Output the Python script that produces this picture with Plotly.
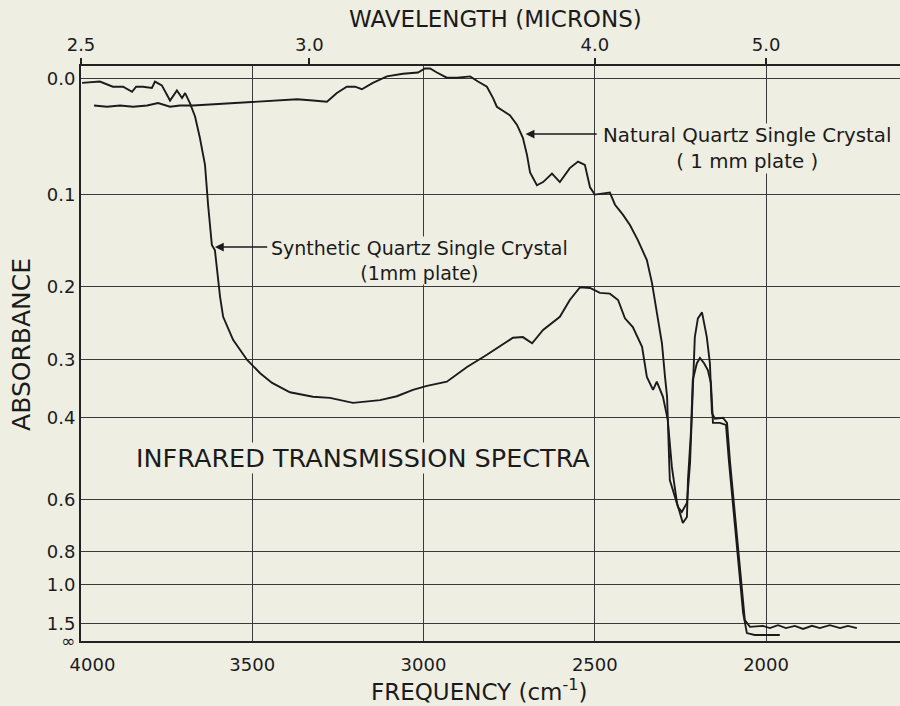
import plotly.graph_objects as go

# ---------------- data ----------------
# Synthetic quartz single crystal (1 mm plate): frequency (cm^-1) and absorbance
freq_syn = [3997, 3945, 3907, 3877, 3851, 3839, 3819, 3793, 3784, 3764,
            3740, 3720, 3705, 3696, 3682, 3667, 3653, 3638, 3629, 3618,
            3609, 3594, 3585, 3556, 3515, 3477, 3442, 3390, 3323, 3273,
            3206, 3127, 3078, 3031, 2990, 2932, 2873, 2815, 2739, 2710,
            2683, 2651, 2602, 2573, 2543, 2514, 2485, 2456, 2432, 2412,
            2389, 2362, 2348, 2330, 2319, 2301, 2287, 2275, 2260, 2243,
            2231, 2228, 2219, 2214, 2202, 2193, 2181, 2170, 2161, 2155,
            2135, 2117, 2108, 2094, 2085, 2076, 2067, 2056, 2033, 2009,
            1960]
abs_syn = [0.003, 0.002, 0.006, 0.006, 0.010, 0.006, 0.006, 0.007, 0.002, 0.005,
           0.017, 0.009, 0.015, 0.011, 0.019, 0.030, 0.048, 0.072, 0.110, 0.152,
           0.158, 0.213, 0.239, 0.271, 0.301, 0.322, 0.338, 0.354, 0.362, 0.364,
           0.373, 0.368, 0.361, 0.350, 0.343, 0.336, 0.312, 0.293, 0.268, 0.267,
           0.276, 0.257, 0.239, 0.217, 0.201, 0.202, 0.208, 0.209, 0.217, 0.241,
           0.253, 0.281, 0.328, 0.350, 0.336, 0.362, 0.405, 0.509, 0.610, 0.678,
           0.656, 0.543, 0.426, 0.333, 0.306, 0.298, 0.306, 0.317, 0.338, 0.411,
           0.411, 0.415, 0.499, 0.643, 0.777, 0.917, 1.30, 1.85, 1.97, 1.97,
           1.97]

# Natural quartz single crystal (1 mm plate)
freq_nat = [3962, 3924, 3886, 3848, 3807, 3775, 3740, 3711, 3673, 3615,
            3565, 3501, 3440, 3369, 3323, 3282, 3253, 3224, 3200, 3180,
            3148, 3107, 3060, 3016, 2996, 2981, 2961, 2932, 2902, 2864,
            2841, 2815, 2797, 2786, 2748, 2727, 2710, 2698, 2689, 2669,
            2651, 2625, 2602, 2593, 2573, 2549, 2529, 2514, 2500, 2456,
            2441, 2418, 2397, 2374, 2348, 2333, 2319, 2304, 2295, 2289,
            2281, 2257, 2246, 2231, 2222, 2216, 2208, 2199, 2187, 2173,
            2164, 2158, 2149, 2126, 2114, 2105, 2091, 2082, 2071, 2062,
            2047, 2009, 1989, 1965, 1942, 1916, 1892, 1866, 1843, 1814,
            1784, 1761, 1735]
abs_nat = [0.021, 0.022, 0.021, 0.022, 0.021, 0.019, 0.022, 0.021, 0.021, 0.020,
           0.019, 0.018, 0.017, 0.016, 0.017, 0.018, 0.011, 0.006, 0.006, 0.008,
           0.003, -0.002, -0.004, -0.005, -0.008, -0.008, -0.005, -0.001, -0.001, -0.002,
           0.002, 0.006, 0.015, 0.022, 0.029, 0.037, 0.048, 0.063, 0.079, 0.091,
           0.088, 0.080, 0.088, 0.084, 0.075, 0.069, 0.072, 0.093, 0.100, 0.098,
           0.110, 0.120, 0.131, 0.147, 0.169, 0.196, 0.234, 0.276, 0.328, 0.362,
           0.543, 0.623, 0.639, 0.610, 0.499, 0.392, 0.267, 0.241, 0.233, 0.267,
           0.306, 0.392, 0.403, 0.401, 0.411, 0.499, 0.643, 0.777, 0.965, 1.43,
           1.60, 1.57, 1.64, 1.55, 1.64, 1.57, 1.67, 1.57, 1.64, 1.55,
           1.64, 1.57, 1.64]

# axis ticks
freq_ticks = [4000, 3500, 3000, 2500, 2000]
freq_tick_labels = ["\u2007\u20074000", "3500", "3000", "2500", "2000"]
wavelength_ticks = [2.5, 3.0, 4.0, 5.0]          # microns
wavelength_tick_labels = ["2.5", "3.0", "4.0", "5.0"]
absorbance_ticks = [0.0, 0.1, 0.2, 0.3, 0.4, 0.6, 0.8, 1.0, 1.5]
absorbance_tick_labels = ["0.0", "0.1", "0.2", "0.3", "0.4", "0.6", "0.8", "1.0", "1.5"]
infinity_label = "<span style='font-size:17px'>\u221e</span>"

# ---------------- figure ----------------
FONT = "DejaVu Sans"
INK = "#1b1b1b"
PAPER = "#efeee3"
X_RANGE = [4000, 1609]
Y_RANGE = [0, 1.0231]   # linear transmittance scale (absorbance labels)


def to_T(a_list):
    return [10 ** (-a) for a in a_list]


fig = go.Figure()
fig.add_trace(go.Scatter(x=freq_syn, y=to_T(abs_syn), mode="lines",
                         line=dict(color=INK, width=1.9),
                         name="Synthetic Quartz Single Crystal", showlegend=False))
fig.add_trace(go.Scatter(x=freq_nat, y=to_T(abs_nat), mode="lines",
                         line=dict(color=INK, width=1.9),
                         name="Natural Quartz Single Crystal", showlegend=False))
# helper trace so the top (wavelength) axis is registered
fig.add_trace(go.Scatter(x=[X_RANGE[0]], y=[None], xaxis="x2", mode="lines",
                         showlegend=False, hoverinfo="skip"))

fig.update_layout(
    width=900, height=706,
    margin=dict(l=81, r=0, t=66, b=65),
    paper_bgcolor=PAPER, plot_bgcolor=PAPER,
    font=dict(family=FONT, color=INK, size=18),
    showlegend=False,
    xaxis=dict(
        range=X_RANGE, autorange=False,
        tickvals=freq_ticks, ticktext=freq_tick_labels,
        ticks="outside", ticklen=6, tickcolor="rgba(0,0,0,0)",
        showgrid=True, gridcolor="#3a3a3a", gridwidth=1.3,
        showline=True, linecolor="#222", linewidth=2,
        zeroline=False, tickfont=dict(size=18, family=FONT, color=INK),
    ),
    xaxis2=dict(
        overlaying="x", side="top", anchor="y",
        range=X_RANGE, autorange=False,
        tickvals=[1e4 / w for w in wavelength_ticks], ticktext=wavelength_tick_labels,
        ticks="outside", ticklen=6, tickwidth=1.5, tickcolor="#222",
        showgrid=False, showline=True, linecolor="#222", linewidth=2,
        zeroline=False, tickfont=dict(size=18, family=FONT, color=INK),
    ),
    yaxis=dict(
        range=Y_RANGE, autorange=False,
        tickvals=to_T(absorbance_ticks) + [0.0],
        ticktext=absorbance_tick_labels + [infinity_label],
        ticks="", showgrid=True, gridcolor="#3a3a3a", gridwidth=1.3,
        showline=True, linecolor="#222", linewidth=2,
        zeroline=False, tickfont=dict(size=18, family=FONT, color=INK),
    ),
)

# axis titles
fig.add_annotation(text="WAVELENGTH (MICRONS)", xref="paper", yref="paper",
                   x=0.5055, y=1.0817, xanchor="center", yanchor="middle",
                   showarrow=False, font=dict(family=FONT, size=23, color=INK))
fig.add_annotation(text="FREQUENCY (cm<sup>-1</sup>)", xref="paper", yref="paper",
                   x=0.487, y=-0.0852, xanchor="center", yanchor="middle",
                   showarrow=False, font=dict(family=FONT, size=23, color=INK))
fig.add_annotation(text="ABSORBANCE", xref="paper", yref="paper",
                   x=-0.072, y=0.515, xanchor="center", yanchor="middle",
                   textangle=-90, showarrow=False,
                   font=dict(family=FONT, size=25, color=INK))

# chart title inside plot
fig.add_annotation(text="INFRARED TRANSMISSION SPECTRA", xref="x", yref="y",
                   x=3842, y=0.3256, xanchor="left", yanchor="middle",
                   showarrow=False, bgcolor=PAPER, borderpad=0,
                   font=dict(family=FONT, size=25.5, color=INK))

# Natural quartz: arrow to its curve + two-line label
fig.add_annotation(text="", xref="x", yref="y", axref="x", ayref="y",
                   x=2702, y=0.902, ax=2490, ay=0.902,
                   showarrow=True, arrowhead=2, arrowsize=1.1, arrowwidth=1.6,
                   arrowcolor=INK)
fig.add_annotation(text="Natural Quartz Single Crystal<br>( 1 mm plate )",
                   xref="x", yref="y", x=2478, y=0.9215,
                   xanchor="left", yanchor="top", align="center",
                   showarrow=False, bgcolor=PAPER, borderpad=0,
                   font=dict(family=FONT, size=19.8, color=INK))

# Synthetic quartz: arrow to its curve + two-line label
fig.add_annotation(text="", xref="x", yref="y", axref="x", ayref="y",
                   x=3609, y=0.701, ax=3452, ay=0.701,
                   showarrow=True, arrowhead=2, arrowsize=1.1, arrowwidth=1.6,
                   arrowcolor=INK)
fig.add_annotation(text="Synthetic Quartz Single Crystal<br>(1mm plate)",
                   xref="x", yref="y", x=3448, y=0.7206,
                   xanchor="left", yanchor="top", align="center",
                   showarrow=False, bgcolor=PAPER, borderpad=0,
                   font=dict(family=FONT, size=19, color=INK))

fig.write_html(
    "out.html",
    config={"displayModeBar": False},
    post_script="document.body.style.margin='0';"
                "document.body.style.background='" + PAPER + "';",
)
